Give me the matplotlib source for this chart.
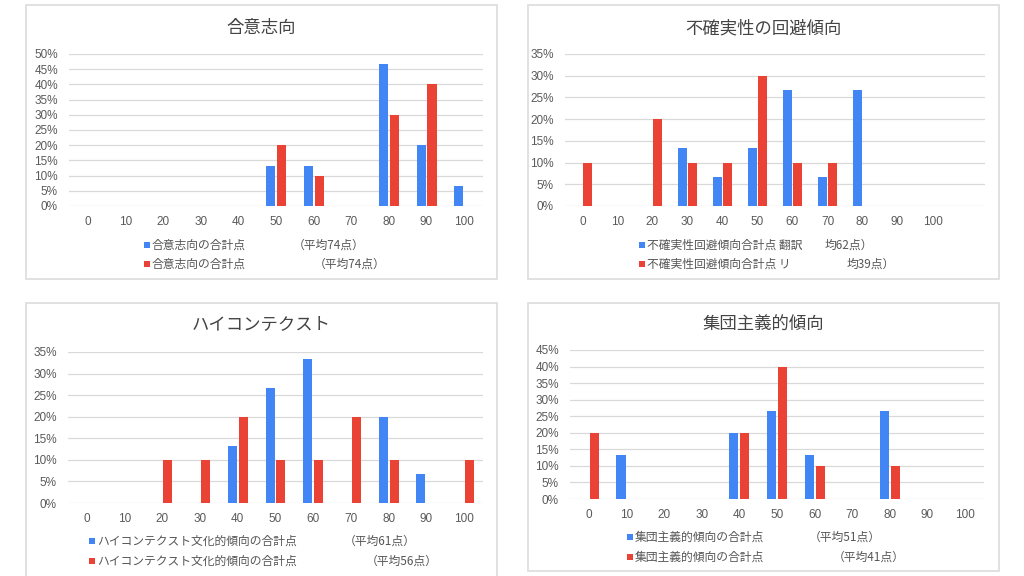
import matplotlib
matplotlib.use("Agg")
import matplotlib.pyplot as plt
from matplotlib.patches import Rectangle
from matplotlib.ticker import PercentFormatter

plt.rcParams['font.family'] = ['Noto Sans CJK JP', 'DejaVu Sans']

BLUE = '#4285F4'
RED = '#EA4335'

# score bins shared by all four charts
scores = ['0', '10', '20', '30', '40', '50', '60', '70', '80', '90', '100']

# 合意志向
goui_blue = [0, 0, 0, 0, 0, 0.133, 0.133, 0, 0.467, 0.20, 0.067]
goui_red = [0, 0, 0, 0, 0, 0.20, 0.10, 0, 0.30, 0.40, 0]

# 不確実性の回避傾向
fukaku_blue = [0, 0, 0, 0.133, 0.067, 0.133, 0.267, 0.067, 0.267, 0, 0]
fukaku_red = [0.10, 0, 0.20, 0.10, 0.10, 0.30, 0.10, 0.10, 0, 0, 0]

# ハイコンテクスト
high_blue = [0, 0, 0, 0, 0.133, 0.267, 0.333, 0, 0.20, 0.067, 0]
high_red = [0, 0, 0.10, 0.10, 0.20, 0.10, 0.10, 0.20, 0.10, 0, 0.10]

# 集団主義的傾向
shudan_blue = [0, 0.133, 0, 0, 0.20, 0.267, 0.133, 0, 0.267, 0, 0]
shudan_red = [0.20, 0, 0, 0, 0.20, 0.40, 0.10, 0, 0.10, 0, 0]

W, H = 1024, 576


def fx(x):
    return x / W


def fy(y):
    return 1 - y / H


fig = plt.figure(figsize=(W / 100, H / 100), dpi=100)


def panel(box, area, title, title_y, blue, red, ymax, n_cat,
          labels, leg_x, rows, means, mean_x):
    # grey frame around each chart
    l, t, r, b = box
    fig.patches.append(Rectangle((fx(l), fy(b)), fx(r - l), (b - t) / H,
                                 transform=fig.transFigure, fill=False,
                                 edgecolor='#dedede', linewidth=1.3))
    fig.text(fx((l + r) / 2), fy(title_y), title, ha='center', va='center',
             fontsize=12.5, color='#444444')

    al, at, ar, ab = area
    ax = fig.add_axes([fx(al), fy(ab), fx(ar - al), (ab - at) / H])
    x = list(range(len(scores)))
    w = 0.24
    ax.bar([i - 0.145 for i in x], blue, width=w, color=BLUE, zorder=3)
    ax.bar([i + 0.145 for i in x], red, width=w, color=RED, zorder=3)
    ax.set_xlim(-0.5, n_cat - 0.5)
    ax.set_ylim(0, ymax)
    ax.set_xticks(x)
    ax.set_xticklabels(scores)
    ax.set_yticks([k * 0.05 for k in range(int(round(ymax / 0.05)) + 1)])
    ax.yaxis.set_major_formatter(PercentFormatter(1.0, decimals=0))
    ax.grid(axis='y', color='#d9d9d9', linewidth=0.9, zorder=0)
    for s in ax.spines.values():
        s.set_visible(False)
    ax.tick_params(length=0, labelsize=8.5, colors='#5a5a5a')
    ax.tick_params(axis='x', pad=7)
    ax.tick_params(axis='y', pad=8)
    for lab in ax.get_xticklabels() + ax.get_yticklabels():
        lab.set_family(['Liberation Sans', 'DejaVu Sans'])

    # legend drawn by hand: marker, series name, mean
    for col, lab, y, m, mx in zip([BLUE, RED], labels, rows, means, mean_x):
        fig.patches.append(Rectangle((fx(leg_x - 3), fy(y + 3)), 6 / W, 6 / H,
                                     transform=fig.transFigure,
                                     facecolor=col, edgecolor='none'))
        fig.text(fx(leg_x + 5), fy(y), lab, ha='left', va='center',
                 fontsize=8.5, color='#555555')
        fig.text(fx(mx), fy(y), m, ha='left', va='center',
                 fontsize=8.5, color='#555555')
    return ax


panel((26, 5, 497, 279), (69, 54, 483, 206), '合意志向', 28,
      goui_blue, goui_red, 0.50, 11,
      ['合意志向の合計点', '合意志向の合計点'], 147, (245, 264),
      ['（平均74点）', '（平均74点）'], (293, 314))

panel((528, 5, 999, 279), (565, 54, 985, 206), '不確実性の回避傾向', 28,
      fukaku_blue, fukaku_red, 0.35, 12,
      ['不確実性回避傾向合計点 翻訳', '不確実性回避傾向合計点 リ'], 642, (245, 264),
      ['均62点）', '均39点）'], (825, 847))

panel((26, 303, 497, 600), (68, 352, 483, 503), 'ハイコンテクスト', 324,
      high_blue, high_red, 0.35, 11,
      ['ハイコンテクスト文化的傾向の合計点', 'ハイコンテクスト文化的傾向の合計点'],
      92, (541, 561),
      ['（平均61点）', '（平均56点）'], (344, 366))

panel((528, 303, 999, 571), (570, 350, 984, 499), '集団主義的傾向', 325,
      shudan_blue, shudan_red, 0.45, 11,
      ['集団主義的傾向の合計点', '集団主義的傾向の合計点'], 630, (537, 557),
      ['（平均51点）', '（平均41点）'], (809, 833))

fig.savefig('out.png', dpi=100)
